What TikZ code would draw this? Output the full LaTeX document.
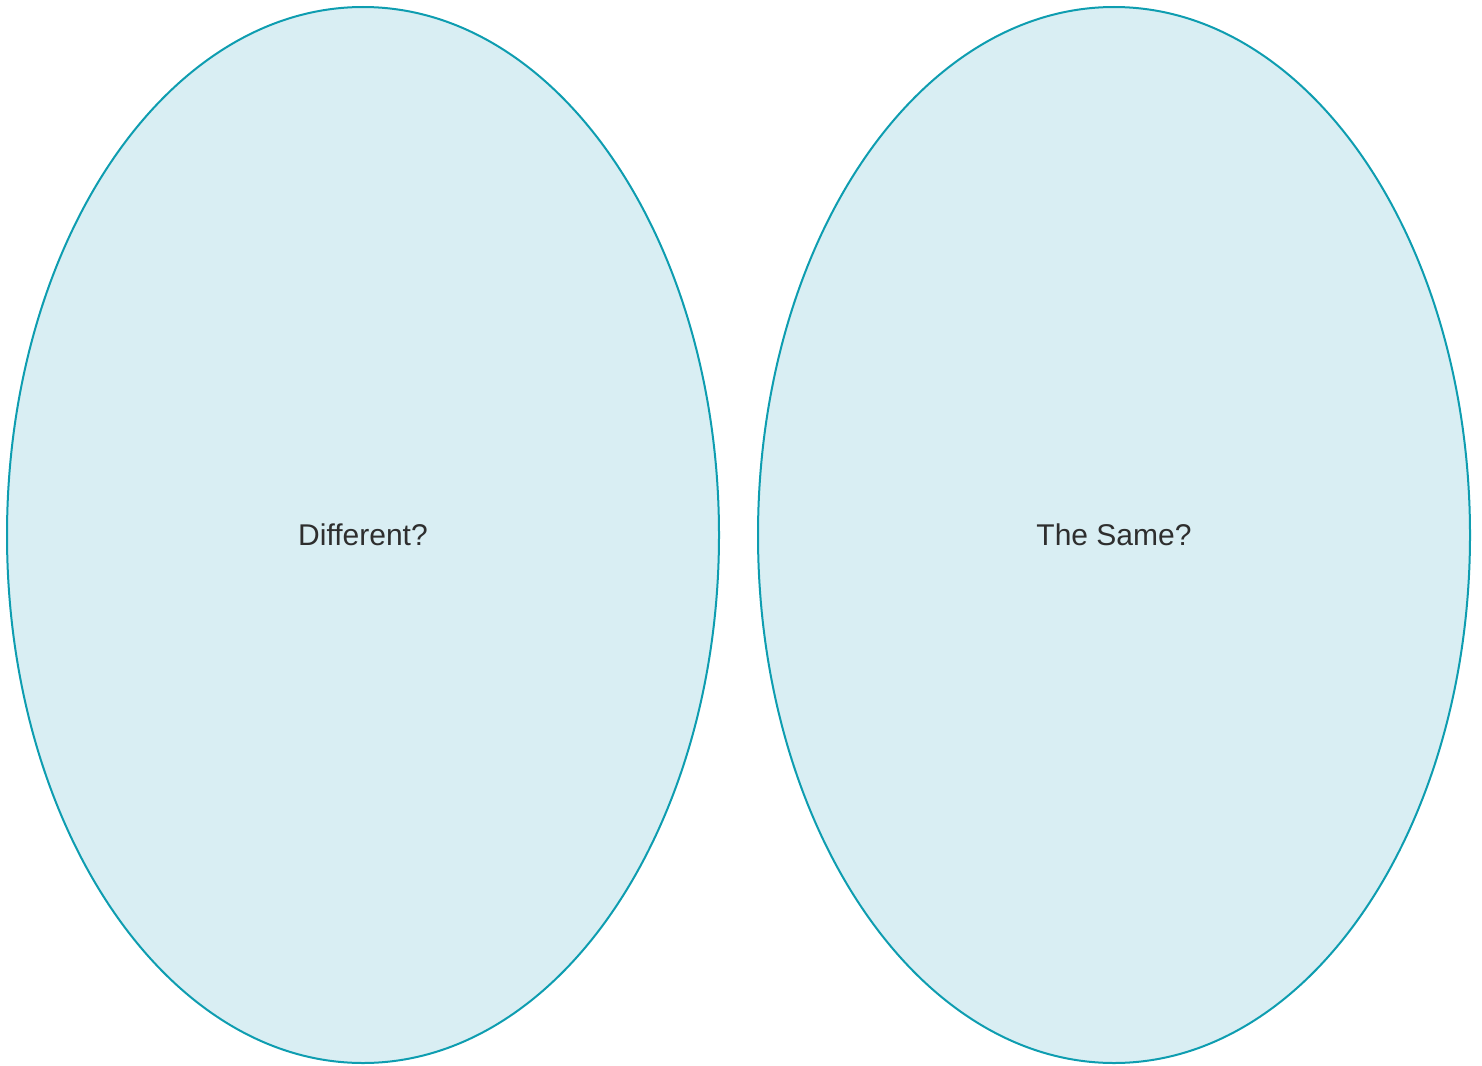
\documentclass[tikz,border=0pt]{standalone}
\usepackage{fontspec}
\setmainfont{Liberation Sans}
\usetikzlibrary{shapes.geometric}
\definecolor{edge}{HTML}{0E9DB0}
\definecolor{fillc}{HTML}{D9EEF3}
\definecolor{txt}{HTML}{2E2E2E}
\begin{document}
\begin{tikzpicture}[x=1pt,y=-1pt,
  bubble/.style={ellipse,draw=edge,fill=fillc,line width=2pt,minimum width=712pt,minimum height=1056pt,inner sep=0pt,text=txt,font=\fontsize{30}{36}\selectfont}]
\useasboundingbox (0,0) rectangle (1482,1065);
\node[bubble] (diff) at (363,535) {Different?};
\node[bubble] (same) at (1114,535) {The Same?};
\end{tikzpicture}
\end{document}
